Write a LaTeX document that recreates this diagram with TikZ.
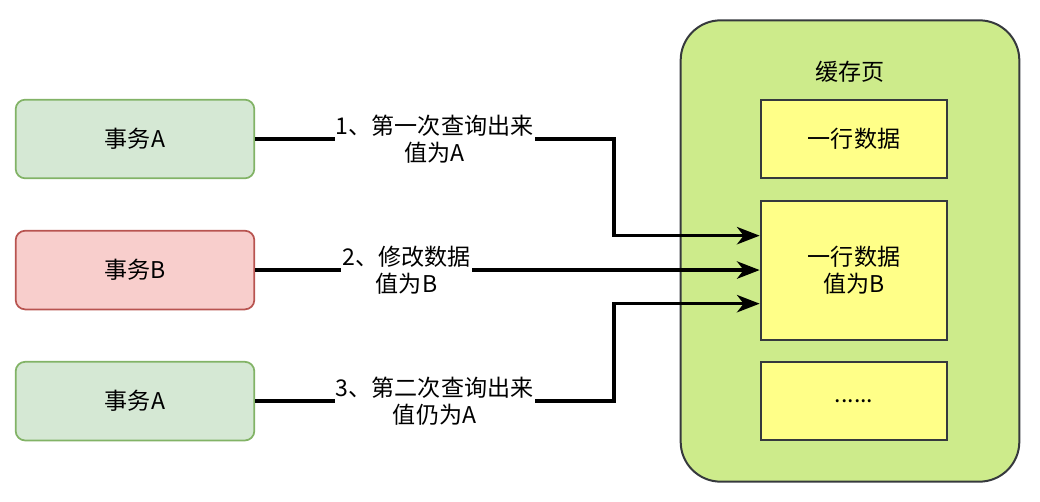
\documentclass[tikz,border=0pt]{standalone}
\usepackage{fontspec}
\setmainfont{Noto Sans CJK SC}
\usetikzlibrary{arrows.meta,positioning}
\definecolor{txfill}{HTML}{D5E8D4}
\definecolor{txline}{HTML}{82B366}
\definecolor{wrfill}{HTML}{F8CECC}
\definecolor{wrline}{HTML}{B85450}
\definecolor{pagefill}{HTML}{CDEB8B}
\definecolor{rowfill}{HTML}{FFFF88}
\definecolor{darkline}{HTML}{36393D}
\begin{document}
\begin{tikzpicture}[x=0.75pt,y=-0.75pt,font=\fontsize{17.3}{20}\selectfont,
	tx/.style={rounded corners=2.5mm,minimum width=179pt,minimum height=59pt,draw=txline,fill=txfill,line width=1.3pt},
	row/.style={minimum width=140pt,minimum height=59pt,draw=darkline,fill=rowfill,line width=1.5pt,align=center},
	flow/.style={-{Stealth[length=17pt,width=13pt,inset=5pt]},line width=2.5pt},
	lbl/.style={fill=white,inner sep=1pt,align=center}]

	\useasboundingbox (0,0) rectangle (1040,502);
	\node[rounded corners=30pt,minimum width=254pt,minimum height=346pt,draw=darkline,fill=pagefill,line width=1.5pt] (page) at (850,251) {};
	\node (title) at (850,72) {缓存页};
	\node[row] (row1) at (854,139) {一行数据};
	\node[row, minimum height=104pt] (row2) [below=15.5pt of row1] {一行数据\\值为B};
	\node[row] (row3) [below=15pt of row2] {......};

	\node[tx] (txA1) at (135,139) {事务A};
	\node[tx, draw=wrline, fill=wrfill] (txB) [below=38pt of txA1] {事务B};
	\node[tx] (txA2) [below=38pt of txB] {事务A};

	\coordinate (bend) at (614,0);
	\coordinate (in1) at ([yshift=26pt]row2.west);
	\coordinate (in3) at ([yshift=-25pt]row2.west);
	\draw[flow] (txA1.east) -- node[lbl] {1、第一次查询出来\\值为A} (txA1.east -| bend) |- (in1);
	\draw[flow] (txB.east) -- node[lbl, pos=0.3] {2、修改数据\\值为B} (txB.east -| row2.west);
	\draw[flow] (txA2.east) -- node[lbl] {3、第二次查询出来\\值仍为A} (txA2.east -| bend) |- (in3);

\end{tikzpicture}
\end{document}
